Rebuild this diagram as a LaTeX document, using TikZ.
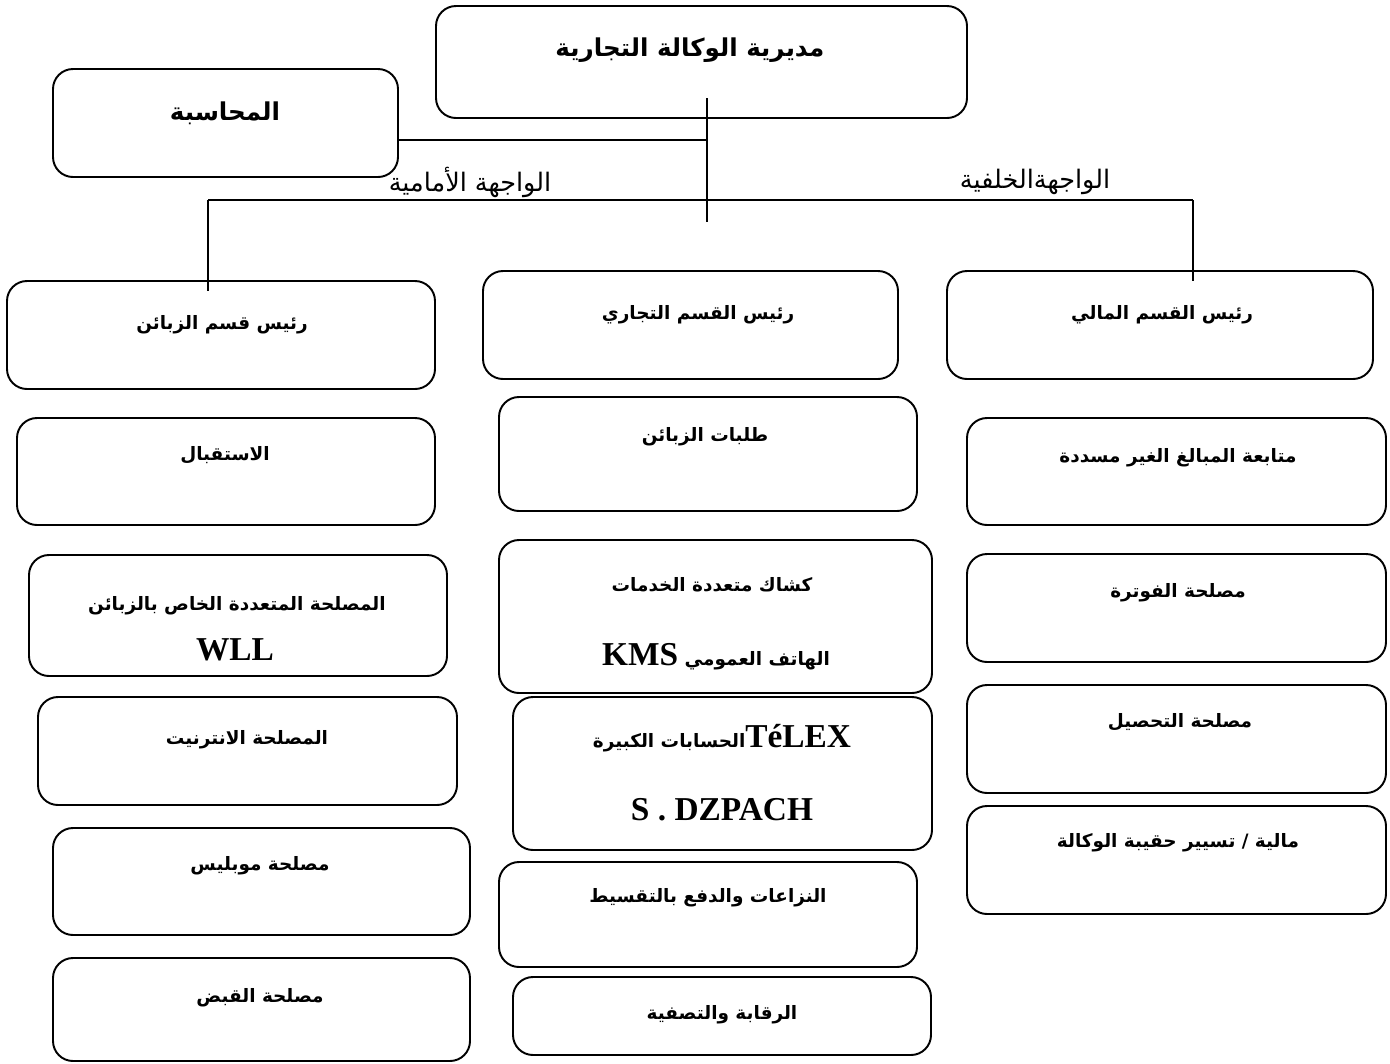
\documentclass[tikz,border=0pt]{standalone}
\usepackage{fontspec}
\setmainfont{Liberation Serif}
\newfontfamily\arabicfont[Script=Arabic]{DejaVu Sans}
\TeXXeTstate=1
\usetikzlibrary{fit}
\newcommand\latword[1]{{\rmfamily\bfseries\fontsize{19}{22}\selectfont #1}}

\tikzset{
  box/.style={draw, line width=1.1pt, rounded corners=0.4cm, inner sep=0pt},
  lbl/.style={font=\arabicfont\bfseries\fontsize{10.5}{12}\selectfont, inner sep=1pt},
  head/.style={font=\arabicfont\bfseries\fontsize{14}{16}\selectfont, inner sep=1pt},
  side/.style={font=\arabicfont\fontsize{14.5}{16}\selectfont, inner sep=1pt},
  wire/.style={line width=1.1pt}
}

\begin{document}
\begin{tikzpicture}[x=0.02cm, y=-0.02cm]
            \useasboundingbox (0,0) rectangle (1390,1063);

            % direction et comptabilite
            \node[box, fit={(436,6) (967,118)}] (dir) {};
            \node[head] (dirT) at (690,50) {\beginR مديرية الوكالة التجارية\endR};
            \node[box, fit={(53,69) (398,177)}] (acc) {};
            \node[head] (accT) at (225,113) {\beginR المحاسبة\endR};

            % liaisons
            \coordinate (trunkTop) at (707,98);
            \coordinate (trunkEnd) at (707,222);
            \coordinate (accTap) at (707,140);
            \coordinate (busL) at (208,200);
            \coordinate (busR) at (1193,200);
            \draw[wire] (trunkTop) -- (trunkEnd);
            \draw[wire] (acc.east |- accTap) -- (accTap);
            \draw[wire] (busL) -- (busR);
            \node[side] (front) at (470,182) {\beginR الواجهة الأمامية\endR};
            \node[side] (back) at (1035,182) {\beginR الواجهةالخلفية\endR};

            % chefs de departement
            \node[box, fit={(7,281) (435,389)}] (chefcli) {};
            \node[lbl] (chefcliT) at (222,325) {\beginR رئيس قسم الزبائن\endR};
            \node[box, fit={(483,271) (898,379)}] (chefcom) {};
            \node[lbl] (chefcomT) at (698,315) {\beginR رئيس القسم التجاري\endR};
            \node[box, fit={(947,271) (1373,379)}] (cheffin) {};
            \node[lbl] (cheffinT) at (1162,315) {\beginR رئيس القسم المالي\endR};
            \draw[wire] (busL) -- ([yshift=-0.22cm]busL |- chefcli.north);
            \draw[wire] (busR) -- ([yshift=-0.22cm]busR |- cheffin.north);

            % colonne clients
            \node[box, fit={(17,418) (435,525)}] (accueil) {};
            \node[lbl] (accueilT) at (225,455) {\beginR الاستقبال\endR};
            \node[box, fit={(29,555) (447,676)}] (multi) {};
            \node[lbl] (multiT) at (237,606) {\beginR المصلحة المتعددة الخاص بالزبائن\endR};
            \node[lbl] (multiL) at (235,650) {\latword{WLL}};
            \node[box, fit={(38,697) (457,805)}] (internet) {};
            \node[lbl] (internetT) at (247,740) {\beginR المصلحة الانترنيت\endR};
            \node[box, fit={(53,828) (470,935)}] (mobilis) {};
            \node[lbl] (mobilisT) at (260,866) {\beginR مصلحة موبليس\endR};
            \node[box, fit={(53,958) (470,1061)}] (caisse) {};
            \node[lbl] (caisseT) at (260,998) {\beginR مصلحة القبض\endR};

            % colonne commerciale
            \node[box, fit={(499,397) (917,511)}] (demandes) {};
            \node[lbl] (demandesT) at (705,437) {\beginR طلبات الزبائن\endR};
            \node[box, fit={(499,540) (932,693)}] (kiosk) {};
            \node[lbl] (kioskT) at (712,585) {\beginR كشاك متعددة الخدمات\endR};
            \node[lbl] (kioskL) at (716,657) {\beginR الهاتف العمومي \latword{KMS}\endR};
            \node[box, fit={(513,697) (932,850)}] (grands) {};
            \node[lbl] (grandsT) at (722,738) {\beginR\beginL\latword{TéLEX}\endL الحسابات الكبيرة\endR};
            \node[lbl] (grandsL) at (722,810) {\latword{S . DZPACH}};
            \node[box, fit={(499,862) (917,967)}] (litiges) {};
            \node[lbl] (litigesT) at (708,898) {\beginR النزاعات والدفع بالتقسيط\endR};
            \node[box, fit={(513,977) (931,1055)}] (controle) {};
            \node[lbl] (controleT) at (722,1015) {\beginR الرقابة والتصفية\endR};

            % colonne finances
            \node[box, fit={(967,418) (1386,525)}] (impayes) {};
            \node[lbl] (impayesT) at (1178,458) {\beginR متابعة المبالغ الغير مسددة\endR};
            \node[box, fit={(967,554) (1386,662)}] (factu) {};
            \node[lbl] (factuT) at (1178,593) {\beginR مصلحة الفوترة\endR};
            \node[box, fit={(967,685) (1386,793)}] (recouv) {};
            \node[lbl] (recouvT) at (1180,722) {\beginR مصلحة التحصيل\endR};
            \node[box, fit={(967,806) (1386,914)}] (gestion) {};
            \node[lbl] (gestionT) at (1178,843) {\beginR مالية / تسيير حقيبة الوكالة\endR};
\end{tikzpicture}
\end{document}
